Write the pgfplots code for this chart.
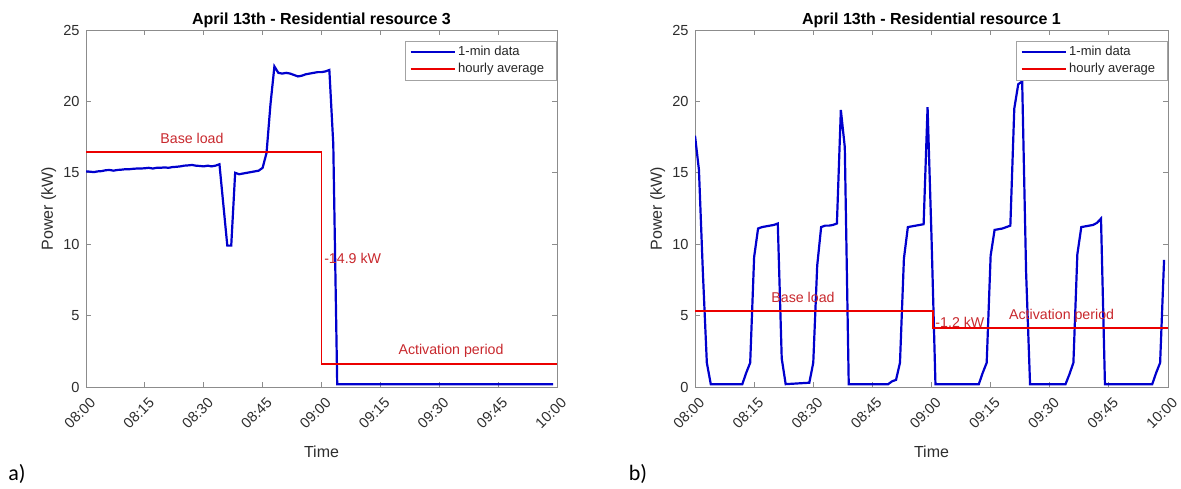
\documentclass[border=0pt]{standalone}
\usepackage{fontspec}
\setmainfont{Liberation Sans}
\newfontfamily\calibri{Carlito}
\usepackage{pgfplots}
\usepackage{pgfplotstable}
\pgfplotsset{compat=1.18}
\definecolor{mblue}{RGB}{0,0,205}
\definecolor{mred}{RGB}{235,0,0}
\definecolor{tred}{RGB}{200,40,45}
\definecolor{axgray}{RGB}{140,140,140}
\definecolor{lblgray}{RGB}{45,45,45}

\pgfplotstableread{
t p
0 15.10
1 15.08
2 15.05
3 15.10
4 15.12
5 15.18
6 15.20
7 15.15
8 15.20
9 15.22
10 15.25
11 15.25
12 15.28
13 15.30
14 15.30
15 15.32
16 15.35
17 15.30
18 15.35
19 15.35
20 15.38
21 15.35
22 15.40
23 15.42
24 15.45
25 15.50
26 15.52
27 15.55
28 15.50
29 15.48
30 15.45
31 15.50
32 15.45
33 15.50
34 15.60
35 12.75
36 9.90
37 9.90
38 15.00
39 14.90
40 14.95
41 15.00
42 15.05
43 15.10
44 15.15
45 15.35
46 16.40
47 19.80
48 22.45
49 22.00
50 21.95
51 22.00
52 21.95
53 21.85
54 21.75
55 21.80
56 21.90
57 21.95
58 22.00
59 22.05
60 22.05
61 22.10
62 22.20
63 17.00
64 0.20
70 0.20
80 0.20
90 0.20
100 0.20
110 0.20
119 0.20
}\resthree

\pgfplotstableread{
t p
0 17.60
1 15.20
2 8.00
3 1.70
4 0.20
12 0.20
13 1.00
14 1.70
15 9.10
16 11.10
17 11.20
18 11.25
19 11.30
20 11.35
21 11.45
22 2.00
23 0.20
29 0.30
30 1.70
31 8.50
32 11.20
33 11.30
34 11.30
35 11.35
36 11.45
37 19.40
38 16.80
39 0.20
49 0.20
50 0.40
51 0.50
52 1.70
53 9.00
54 11.20
55 11.25
56 11.30
57 11.35
58 11.40
59 19.60
60 10.50
61 0.20
72 0.20
73 1.00
74 1.70
75 9.20
76 11.00
77 11.05
78 11.10
79 11.20
80 11.30
81 19.50
82 21.20
83 21.40
84 8.00
85 0.20
94 0.20
95 0.90
96 1.70
97 9.30
98 11.20
99 11.25
100 11.30
101 11.35
102 11.50
103 11.80
104 0.20
116 0.20
117 1.00
118 1.70
119 8.90
}\resone

\pgfplotsset{mystyle/.style={
  scale only axis, height=178.5pt,
  xmin=0, xmax=120, ymin=0, ymax=25,
  xtick={0,15,...,120},
  xticklabels={08:00,08:15,08:30,08:45,09:00,09:15,09:30,09:45,10:00},
  ytick={0,5,...,25},
  tick align=inside, major tick length=2.5pt,
  axis line style={axgray, line width=0.5pt},
  every tick/.style={axgray, line width=0.5pt},
  tick label style={font=\fontsize{7.3}{8}\selectfont, text=lblgray},
  /pgf/number format/assume math mode=true,
  xticklabel style={xshift=3.5pt, yshift=-6.5pt, rotate=45, anchor=east, inner sep=0pt},
  yticklabel style={anchor=east, inner sep=0pt, xshift=-3pt},
  xlabel={Time}, ylabel={Power (kW)},
  label style={font=\fontsize{8}{9}\selectfont, text=lblgray},
  xlabel style={at={(axis description cs:0.5,-0.182)}, anchor=center},
  ylabel style={at={(axis description cs:-0.079,0.5)}, anchor=center},
  title style={font=\bfseries\fontsize{8}{9}\selectfont, at={(axis description cs:0.5,1)}, anchor=south, yshift=-6pt, inner sep=1pt},
  legend cell align=left,
  legend style={at={(1.0,0.969)}, anchor=north east, draw=axgray!80, line width=0.4pt,
    font=\fontsize{6.5}{7.5}\selectfont, text=black!85, inner xsep=2pt, inner ysep=1pt,
    row sep=0pt, nodes={inner sep=1.2pt}},
  legend image code/.code={\draw[#1] (0pt,0pt) -- (22pt,0pt);},
}}

\begin{document}
\begin{tikzpicture}
\path[use as bounding box] (0,-244pt) rectangle (590.5pt,0pt);

\begin{axis}[mystyle, width=235.5pt, at={(43pt,-193.5pt)}, anchor=south west,
  title={April 13th - Residential resource 3}]
\addplot[mblue, line width=1.1pt] table[x=t, y=p] {\resthree};
\addlegendentry{1-min data}
\addplot[mred, line width=0.9pt] coordinates {(0,16.45) (60,16.45) (60,1.6) (120,1.6)};
\addlegendentry{hourly average\hspace*{3pt}}
\node[tred, font=\fontsize{7.1}{8}\selectfont, anchor=center] at (axis cs:27,17.4) {Base load};
\node[tred, font=\fontsize{7.1}{8}\selectfont, anchor=west, inner sep=0pt] at (axis cs:60.6,9.0) {-14.9 kW};
\node[tred, font=\fontsize{7.1}{8}\selectfont, anchor=center] at (axis cs:93,2.5) {Activation period};
\end{axis}

\begin{axis}[mystyle, width=236.5pt, at={(347.5pt,-193.5pt)}, anchor=south west,
  title={April 13th - Residential resource 1}]
\addplot[mblue, line width=1.1pt] table[x=t, y=p] {\resone};
\addlegendentry{1-min data}
\addplot[mred, line width=0.9pt] coordinates {(0,5.32) (60.3,5.32) (60.3,4.13) (120,4.13)};
\addlegendentry{hourly average\hspace*{3pt}}
\node[tred, font=\fontsize{7.1}{8}\selectfont, anchor=center] at (axis cs:27.4,6.3) {Base load};
\node[tred, font=\fontsize{7.1}{8}\selectfont, anchor=west, inner sep=0pt] at (axis cs:60.9,4.55) {-1.2 kW};
\node[tred, font=\fontsize{7.1}{8}\selectfont, anchor=center] at (axis cs:93,5.0) {Activation period};
\end{axis}

\node[font=\calibri\fontsize{11}{13}\selectfont, text=black] at (8.5pt,-237pt) {a)};
\node[font=\calibri\fontsize{11}{13}\selectfont, text=black] at (319pt,-237pt) {b)};
\end{tikzpicture}
\end{document}
